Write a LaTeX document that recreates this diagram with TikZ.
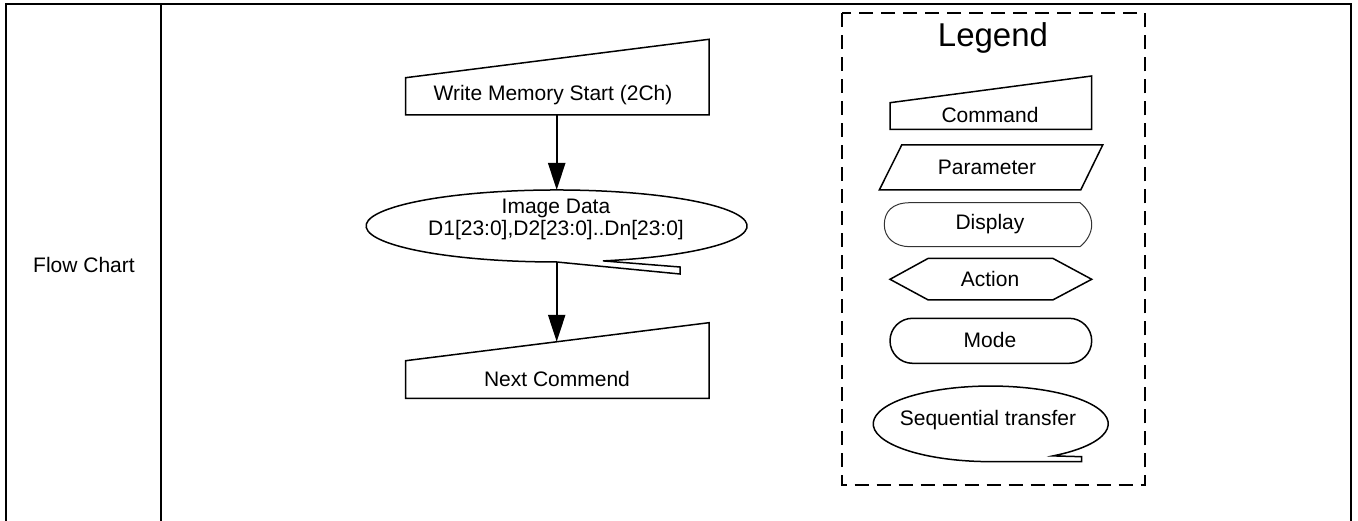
\documentclass[tikz,border=0pt]{standalone}
\usepackage{fontspec}
\setmainfont{Liberation Sans}
\usetikzlibrary{arrows.meta}
\begin{document}
\begin{tikzpicture}[x=1pt,y=-1pt,
  shp/.style={draw=black,line width=1.5pt,line join=miter},
  thinshp/.style={draw=black!80,line width=1pt},
  lbl/.style={inner sep=0pt,font=\fontsize{21}{22}\selectfont,align=center},
  arr/.style={line width=2.3pt,-{Triangle[length=27pt,width=17pt]}},
  frame/.style={line width=2.5pt},
  legendbox/.style={line width=2pt,dash pattern=on 14pt off 8pt}
]
\useasboundingbox (0,0) rectangle (1358,521);
% table frame
\draw[frame] (6,521) -- (6,4) -- (1351,4) -- (1351,521);
\draw[frame] (161,4) -- (161,521);
\node[lbl] (fc) at (84,265) {Flow Chart};

% command 1
\draw[shp] (405.7,115) -- (405.7,77.7) -- (709,39.3) -- (709,115) -- cycle;
\node[lbl] (t1) at (553,95) {Write Memory Start (2Ch)};
\coordinate (c1b) at (556.7,115);

% sequential transfer (image data)
\draw[shp] (603,260.9) arc[start angle=75.9, end angle=-270, x radius=190.5, y radius=36]
  -- (680,274) -- (680,267) -- cycle;
\node[lbl] (t2) at (556,219) {Image Data\\D1[23:0],D2[23:0]..Dn[23:0]};
\coordinate (e1t) at (556.7,190);
\coordinate (e1b) at (556.7,262);

% command 2
\draw[shp] (405.7,398.3) -- (405.7,360.7) -- (709,322.7) -- (709,398.3) -- cycle;
\node[lbl] (t3) at (557,379) {Next Commend};
\coordinate (c2t) at (556.7,341.8);

% connectors
\draw[arr] (c1b) -- (e1t);
\draw[arr] (e1b) -- (c2t);

% legend
\draw[legendbox] (842.3,13.3) rectangle (1145,485);
\node[inner sep=0pt,font=\fontsize{33}{35}\selectfont] (lg) at (993,38) {Legend};

\draw[shp] (890,129.3) -- (890,102.7) -- (1091.7,76) -- (1091.7,129.3) -- cycle;
\node[lbl] (lc) at (990,115) {Command};

\draw[shp] (901.7,145) -- (1102.7,145) -- (1080.7,190) -- (879.3,190) -- cycle;
\node[lbl] (lp) at (987,167) {Parameter};

\draw[thinshp] (910,202.7) -- (1080,202.7)
  .. controls (1087,208) and (1091.7,216) .. (1091.7,224.7)
  .. controls (1091.7,233) and (1087,241) .. (1080,246.7)
  -- (910,246.7)
  .. controls (895,246.7) and (884.3,238) .. (884.3,224.7)
  .. controls (884.3,212) and (892,202.7) .. (910,202.7) -- cycle;
\node[lbl] (ld) at (990,224) {Display};

\draw[shp] (890,279.3) -- (928.3,258.3) -- (1052.7,258.3) -- (1091.7,279.3) -- (1052.7,300) -- (928.3,300) -- cycle;
\node[lbl] (la) at (990,279) {Action};

\draw[shp,rounded corners=22.5pt] (890,318.3) rectangle (1091.7,363.3);
\node[lbl] (lm) at (990,340) {Mode};

\draw[shp] (1053,455.9) arc[start angle=58, end angle=-270, x radius=117.5, y radius=37.8]
  -- (1081.7,461.7) -- (1081.7,456.7) -- cycle;
\node[lbl] (ls) at (988,420) {Sequential transfer};
\end{tikzpicture}
\end{document}
